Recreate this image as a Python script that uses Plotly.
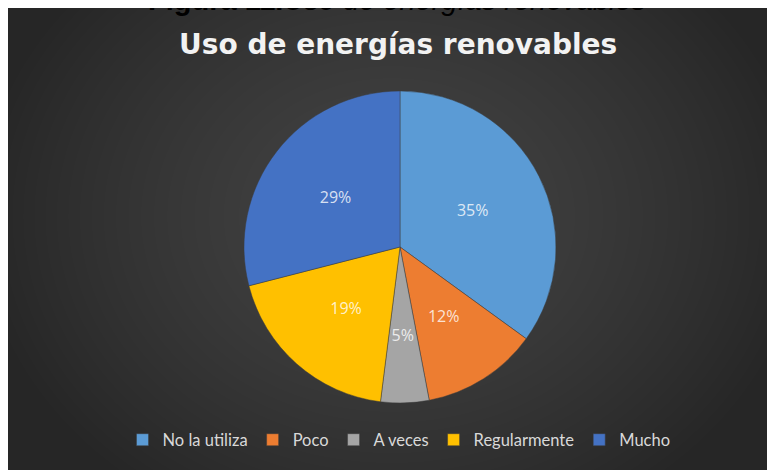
import base64, struct, zlib
import numpy as np
import plotly.graph_objects as go

categories = ["No la utiliza", "Poco", "A veces", "Regularmente", "Mucho"]
values = [35, 12, 5, 19, 29]
colors = ["#5B9BD5", "#ED7D31", "#A5A5A5", "#FFC000", "#4472C4"]

# figure sits at (8, 8) in the page because of the body margin
W, H = 767, 462


def gradient_png(w, h):
    yy, xx = np.mgrid[0:h, 0:w].astype(float)
    cx, cy = w * 0.5, h * 0.45
    d = np.sqrt(((xx - cx) / (w * 0.55)) ** 2 + ((yy - cy) / (h * 0.75)) ** 2)
    d = np.clip(d, 0, 1)
    v = (67 - 29 * d ** 1.4).astype(np.uint8)
    img = np.stack([v, v, v], axis=-1)
    raw = b"".join(b"\x00" + img[r].tobytes() for r in range(h))

    def chunk(t, data):
        c = struct.pack(">I", len(data)) + t + data
        return c + struct.pack(">I", zlib.crc32(t + data) & 0xFFFFFFFF)

    png = b"\x89PNG\r\n\x1a\n"
    png += chunk(b"IHDR", struct.pack(">IIBBBBB", w, h, 8, 2, 0, 0, 0))
    png += chunk(b"IDAT", zlib.compress(raw, 9))
    png += chunk(b"IEND", b"")
    return "data:image/png;base64," + base64.b64encode(png).decode()


bg = gradient_png(W, H)

cx, cy, r = 392, 239, 156      # pie centre / radius in figure px
r2 = 102                        # label ring outer radius


def dom(rad):
    return dict(
        x=[(cx - rad) / W, (cx + rad) / W],
        y=[(H - cy - rad) / H, (H - cy + rad) / H],
    )


fig = go.Figure()
fig.add_trace(
    go.Pie(
        labels=categories,
        values=values,
        sort=False,
        direction="clockwise",
        rotation=0,
        marker=dict(colors=colors, line=dict(color="rgba(60,60,60,0.6)", width=0.8)),
        textinfo="none",
        domain=dom(r),
        hoverinfo="label+percent",
    )
)
# transparent ring that only carries the percentage labels
fig.add_trace(
    go.Pie(
        labels=categories,
        values=values,
        sort=False,
        direction="clockwise",
        rotation=0,
        hole=0.6,
        marker=dict(colors=["rgba(0,0,0,0)"] * len(values), line=dict(width=0)),
        textinfo="percent",
        textposition="inside",
        insidetextorientation="horizontal",
        textfont=dict(family="Open Sans", size=16, color="rgba(255,255,255,0.8)"),
        domain=dom(r2),
        showlegend=False,
        hoverinfo="skip",
    )
)

fig.update_layout(
    width=W,
    height=H,
    margin=dict(l=0, r=0, t=0, b=0),
    paper_bgcolor="#303030",
    plot_bgcolor="#303030",
    uniformtext=dict(minsize=16, mode="show"),
    images=[
        dict(
            source=bg,
            xref="paper", yref="paper",
            x=0, y=1, sizex=1, sizey=1,
            xanchor="left", yanchor="top",
            sizing="stretch", layer="below",
        )
    ],
    annotations=[
        dict(
            text="<b>Figura 11.</b><i>Uso de energías renovables</i>",
            xref="paper", yref="paper",
            x=389 / W, y=1 + 8 / H,
            xanchor="center", yanchor="middle",
            showarrow=False,
            font=dict(family="Liberation Sans", size=29, color="black"),
        ),
        dict(
            text="<b>Uso de energías renovables</b>",
            xref="paper", yref="paper",
            x=390 / W, y=1 - 36 / H,
            xanchor="center", yanchor="middle",
            showarrow=False,
            font=dict(family="DejaVu Sans", size=28, color="#f2f2f2"),
        ),
    ],
    showlegend=True,
    legend=dict(
        orientation="h",
        x=391 / W, xanchor="center",
        y=1 - 432 / H, yanchor="middle",
        font=dict(family="Lato", size=16.5, color="#d9d9d9"),
        bgcolor="rgba(0,0,0,0)",
        itemwidth=30,
        traceorder="normal",
    ),
)

fig.write_html("out.html")
